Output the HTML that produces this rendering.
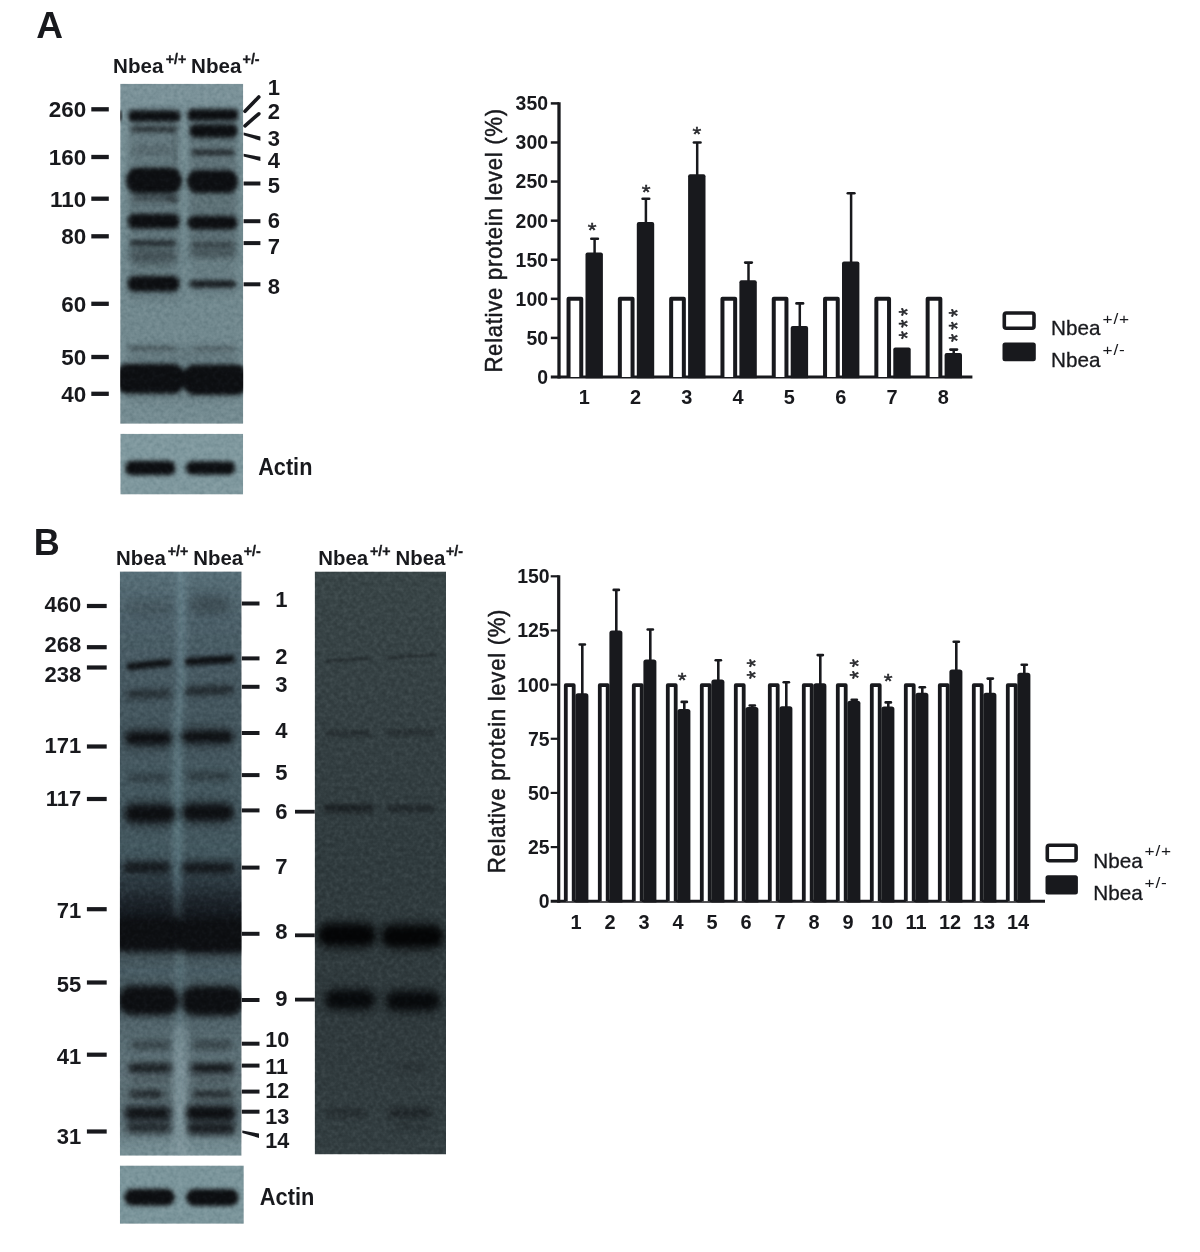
<!DOCTYPE html>
<html lang="en"><head><meta charset="utf-8"><title>Nbea figure</title>
<style>
html,body{margin:0;padding:0;background:#fff}
svg{display:block}
text{font-family:"Liberation Sans",Arial,Helvetica,sans-serif}
</style></head><body>
<svg width="1200" height="1252" viewBox="0 0 1200 1252">
<defs>
<filter id="b1" color-interpolation-filters="sRGB" x="-20%" y="-100%" width="140%" height="300%"><feGaussianBlur stdDeviation="1"/></filter>
<filter id="b2" color-interpolation-filters="sRGB" x="-20%" y="-100%" width="140%" height="300%"><feGaussianBlur stdDeviation="2"/></filter>
<filter id="b3" color-interpolation-filters="sRGB" x="-20%" y="-100%" width="140%" height="300%"><feGaussianBlur stdDeviation="3"/></filter>
<filter id="b5" color-interpolation-filters="sRGB" x="-30%" y="-100%" width="160%" height="300%"><feGaussianBlur stdDeviation="5"/></filter>
<filter id="b8" color-interpolation-filters="sRGB" x="-50%" y="-50%" width="200%" height="200%"><feGaussianBlur stdDeviation="8"/></filter>
<filter id="grain" x="0" y="0" width="100%" height="100%" color-interpolation-filters="sRGB"><feTurbulence type="fractalNoise" baseFrequency="0.23" numOctaves="2" seed="7"/><feColorMatrix type="matrix" values="1.6 0 0 0 -0.3  1.6 0 0 0 -0.3  1.6 0 0 0 -0.3  0 0 0 0 1"/></filter>

<linearGradient id="gA" x1="0" y1="0" x2="0" y2="1">
 <stop offset="0" stop-color="#7b9299"/><stop offset="0.2" stop-color="#778f95"/>
 <stop offset="0.45" stop-color="#728a90"/><stop offset="0.7" stop-color="#71888e"/>
 <stop offset="0.9" stop-color="#738a90"/><stop offset="1" stop-color="#758c92"/>
</linearGradient>
<linearGradient id="gB1" x1="0" y1="0" x2="0" y2="1">
 <stop offset="0.0" stop-color="#68838d"/>
 <stop offset="0.06" stop-color="#647e88"/>
 <stop offset="0.12" stop-color="#617a84"/>
 <stop offset="0.2201" stop-color="#5f7881"/>
 <stop offset="0.4683" stop-color="#5e7a82"/>
 <stop offset="0.5453" stop-color="#506771"/>
 <stop offset="0.5932" stop-color="#2c363c"/>
 <stop offset="0.6565" stop-color="#55696f"/>
 <stop offset="0.6822" stop-color="#5a727a"/>
 <stop offset="0.7079" stop-color="#566b72"/>
 <stop offset="0.7678" stop-color="#60767d"/>
 <stop offset="0.802" stop-color="#677e85"/>
 <stop offset="0.8448" stop-color="#748b92"/>
 <stop offset="1.0" stop-color="#778f95"/>
</linearGradient>
<linearGradient id="lnB1" gradientUnits="userSpaceOnUse" x1="0" y1="571.4" x2="0" y2="1155.7">
 <stop offset="0.0" stop-color="#10141a" stop-opacity="0.18"/>
 <stop offset="0.06" stop-color="#10141a" stop-opacity="0.25"/>
 <stop offset="0.12" stop-color="#10141a" stop-opacity="0.29"/>
 <stop offset="0.2201" stop-color="#10141a" stop-opacity="0.33"/>
 <stop offset="0.3912" stop-color="#10141a" stop-opacity="0.32"/>
 <stop offset="0.4854" stop-color="#10141a" stop-opacity="0.34"/>
 <stop offset="0.5179" stop-color="#10141a" stop-opacity="0.5"/>
 <stop offset="0.5453" stop-color="#10141a" stop-opacity="0.6"/>
 <stop offset="0.5881" stop-color="#10141a" stop-opacity="0.8"/>
 <stop offset="0.6565" stop-color="#10141a" stop-opacity="0.3"/>
 <stop offset="0.6822" stop-color="#10141a" stop-opacity="0.22"/>
 <stop offset="0.7678" stop-color="#10141a" stop-opacity="0.2"/>
 <stop offset="0.802" stop-color="#10141a" stop-opacity="0.18"/>
 <stop offset="0.8448" stop-color="#10141a" stop-opacity="0.22"/>
 <stop offset="0.9047" stop-color="#10141a" stop-opacity="0.26"/>
 <stop offset="0.956" stop-color="#10141a" stop-opacity="0.2"/>
 <stop offset="0.9817" stop-color="#10141a" stop-opacity="0.03"/>
 <stop offset="1.0" stop-color="#10141a" stop-opacity="0.0"/>
</linearGradient>
<linearGradient id="gB2" x1="0" y1="0" x2="0" y2="1">
 <stop offset="0" stop-color="#394547"/><stop offset="0.25" stop-color="#354043"/>
 <stop offset="0.5" stop-color="#303b3e"/><stop offset="0.8" stop-color="#303a3d"/><stop offset="1" stop-color="#333e41"/>
</linearGradient>

</defs>
<rect width="1200" height="1252" fill="#ffffff"/>
<g id="blotA">
<clipPath id="cA"><rect x="120.2" y="83.8" width="123.0" height="340.0"/></clipPath>
<g clip-path="url(#cA)">
<rect x="120.2" y="83.8" width="123.0" height="340.0" fill="url(#gA)"/>
<rect x="128" y="108" width="52" height="150" fill="#1c2227" opacity="0.2" filter="url(#b3)"/>
<rect x="189" y="108" width="48" height="150" fill="#1c2227" opacity="0.26" filter="url(#b3)"/>
<rect x="129" y="250" width="50" height="50" fill="#1c2227" opacity="0.16" filter="url(#b5)"/>
<rect x="190" y="250" width="46" height="45" fill="#1c2227" opacity="0.12" filter="url(#b5)"/>
<rect x="128" y="345" width="110" height="55" fill="#1c2227" opacity="0.15" filter="url(#b5)"/>
<rect x="172" y="132" width="5" height="34" fill="#1c2227" opacity="0.16" filter="url(#b2)"/>
<rect x="128.4" y="110.6" width="52.0" height="11.2" rx="4.0" ry="5.6" fill="#0d0f12" opacity="1.0" filter="url(#b2)"/>
<rect x="187.3" y="109.2" width="51.0" height="11.6" rx="4.0" ry="5.8" fill="#0d0f12" opacity="1.0" filter="url(#b2)"/>
<rect x="117.0" y="110.0" width="5.0" height="12.0" rx="2.5" ry="6.0" fill="#0e1013" opacity="0.85" filter="url(#b1)"/>
<rect x="131.0" y="125.9" width="46.0" height="6.5" rx="3.0" ry="3.2" fill="#0d0f12" opacity="0.62" filter="url(#b2)"/>
<rect x="189.5" y="124.2" width="48.0" height="13.5" rx="5.0" ry="6.8" fill="#0d0f12" opacity="1.0" filter="url(#b2)"/>
<rect x="191.5" y="149.8" width="43.0" height="5.5" rx="2.5" ry="2.8" fill="#0d0f12" opacity="0.72" filter="url(#b2)"/>
<rect x="132.0" y="145.5" width="40.0" height="9.0" rx="4.5" ry="4.5" fill="#0e1013" opacity="0.16" filter="url(#b3)"/>
<rect x="126.0" y="167.6" width="56.0" height="26.0" rx="11.0" ry="13.0" fill="#0d0f12" opacity="1.0" filter="url(#b2)"/>
<rect x="187.0" y="170.0" width="51.0" height="23.0" rx="10.0" ry="11.5" fill="#0d0f12" opacity="1.0" filter="url(#b2)"/>
<rect x="132.0" y="194.0" width="46.0" height="7.0" rx="3.5" ry="3.5" fill="#0e1013" opacity="0.5" filter="url(#b3)"/>
<rect x="167.0" y="197.0" width="10.0" height="5.0" rx="2.5" ry="2.5" fill="#0e1013" opacity="0.4" filter="url(#b2)"/>
<rect x="127.8" y="213.7" width="52.0" height="15.0" rx="6.0" ry="7.5" fill="#0d0f12" opacity="1.0" filter="url(#b2)"/>
<rect x="187.5" y="216.1" width="50.0" height="13.5" rx="6.0" ry="6.8" fill="#0d0f12" opacity="1.0" filter="url(#b2)"/>
<rect x="130.0" y="240.2" width="46.0" height="6.0" rx="3.0" ry="3.0" fill="#0d0f12" opacity="0.7" filter="url(#b2)"/>
<rect x="191.0" y="241.8" width="44.0" height="5.5" rx="3.0" ry="2.8" fill="#0d0f12" opacity="0.4" filter="url(#b2)"/>
<rect x="130.0" y="249.5" width="46.0" height="15.0" rx="7.5" ry="7.5" fill="#0e1013" opacity="0.28" filter="url(#b3)"/>
<rect x="191.0" y="248.5" width="44.0" height="8.0" rx="4.0" ry="4.0" fill="#0e1013" opacity="0.22" filter="url(#b3)"/>
<rect x="127.6" y="276.1" width="52.0" height="15.5" rx="6.0" ry="7.8" fill="#0d0f12" opacity="1.0" filter="url(#b2)"/>
<rect x="189.8" y="280.5" width="46.0" height="7.0" rx="3.0" ry="3.5" fill="#0d0f12" opacity="0.9" filter="url(#b2)"/>
<rect x="128.0" y="346.2" width="48.0" height="3.5" rx="1.8" ry="1.8" fill="#0e1013" opacity="0.42" filter="url(#b2)"/>
<rect x="193.0" y="346.4" width="42.0" height="3.5" rx="1.8" ry="1.8" fill="#0e1013" opacity="0.32" filter="url(#b2)"/>
<rect x="115.0" y="363.8" width="70.0" height="30.0" rx="12.0" ry="15.0" fill="#0d0f12" opacity="1.0" filter="url(#b2)"/>
<rect x="182.5" y="364.6" width="66.0" height="30.5" rx="12.0" ry="15.2" fill="#0d0f12" opacity="1.0" filter="url(#b2)"/>
<rect x="176.5" y="371.0" width="14.0" height="15.0" rx="2.0" ry="7.5" fill="#0d0f12" opacity="1.0" filter="url(#b2)"/>
<rect x="120.2" y="83.8" width="123.0" height="340.0" filter="url(#grain)" style="mix-blend-mode:soft-light" opacity="0.17"/>
</g>
</g>
<g id="actinA">
<clipPath id="cAA"><rect x="120.3" y="433.8" width="122.8" height="60.7"/></clipPath>
<g clip-path="url(#cAA)">
<rect x="120.3" y="433.8" width="122.8" height="60.7" fill="#7f989e"/>
<rect x="125.1" y="460.8" width="50.5" height="14.5" rx="6.0" ry="7.2" fill="#0d0f12" opacity="1.0" filter="url(#b2)"/>
<rect x="185.8" y="461.2" width="49.5" height="13.5" rx="6.0" ry="6.8" fill="#0d0f12" opacity="1.0" filter="url(#b2)"/>
<rect x="120.3" y="433.8" width="122.8" height="60.7" filter="url(#grain)" style="mix-blend-mode:soft-light" opacity="0.17"/>
</g>
</g>
<g id="blotB1">
<clipPath id="cB1"><rect x="119.9" y="571.4" width="121.7" height="584.3"/></clipPath>
<g clip-path="url(#cB1)">
<rect x="119.9" y="571.4" width="121.7" height="584.3" fill="url(#gB1)"/>
<path d="M108 558 H177.2 V690 L173.6 722 V925 L175.8 960 V1168 H108 Z" fill="url(#lnB1)" filter="url(#b3)"/>
<path d="M185.4 558 V690 L181.6 722 V925 L184.2 960 V1168 H254 V558 Z" fill="url(#lnB1)" filter="url(#b3)"/>
<rect x="174" y="740" width="8" height="180" fill="#10141a" opacity="0.0"/>
<rect x="122" y="885" width="118" height="40" fill="#0e1114" opacity="0.15" filter="url(#b8)"/>
<rect x="126.5" y="600.0" width="46.0" height="16.0" rx="8.0" ry="8.0" fill="#0e1013" opacity="0.15" filter="url(#b5)"/>
<rect x="189.5" y="594.5" width="40.0" height="20.0" rx="10.0" ry="10.0" fill="#0e1013" opacity="0.26" filter="url(#b5)"/>
<rect x="126.8" y="661.0" width="45.0" height="7.2" rx="3.0" ry="3.6" fill="#0d0f12" opacity="1.0" filter="url(#b2)" transform="rotate(-6.0 149.3 664.6)"/>
<rect x="184.8" y="656.6" width="50.0" height="7.8" rx="3.0" ry="3.9" fill="#0d0f12" opacity="1.0" filter="url(#b2)" transform="rotate(-3.2 209.8 660.5)"/>
<rect x="126.5" y="690.0" width="44.0" height="8.0" rx="4.0" ry="4.0" fill="#0e1013" opacity="0.6" filter="url(#b3)" transform="rotate(-2 148.5 694.0)"/>
<rect x="184.5" y="686.6" width="49.0" height="8.0" rx="4.0" ry="4.0" fill="#0e1013" opacity="0.72" filter="url(#b3)" transform="rotate(-2.5 209.0 690.6)"/>
<rect x="123.5" y="726.2" width="50.0" height="24.0" rx="12.0" ry="12.0" fill="#0e1013" opacity="0.28" filter="url(#b5)"/>
<rect x="180.5" y="725.3" width="54.0" height="23.0" rx="11.5" ry="11.5" fill="#0e1013" opacity="0.28" filter="url(#b5)"/>
<rect x="125.5" y="732.0" width="46.0" height="12.5" rx="6.0" ry="6.2" fill="#0d0f12" opacity="1.0" filter="url(#b3)"/>
<rect x="182.0" y="731.0" width="51.0" height="11.5" rx="6.0" ry="5.8" fill="#0d0f12" opacity="1.0" filter="url(#b3)"/>
<rect x="127.5" y="773.5" width="42.0" height="9.0" rx="4.5" ry="4.5" fill="#0e1013" opacity="0.34" filter="url(#b3)"/>
<rect x="186.5" y="771.5" width="44.0" height="9.0" rx="4.5" ry="4.5" fill="#0e1013" opacity="0.4" filter="url(#b3)"/>
<rect x="123.0" y="798.6" width="54.0" height="30.0" rx="15.0" ry="15.0" fill="#0e1013" opacity="0.3" filter="url(#b5)"/>
<rect x="180.3" y="798.6" width="55.0" height="28.0" rx="14.0" ry="14.0" fill="#0e1013" opacity="0.3" filter="url(#b5)"/>
<rect x="125.0" y="804.9" width="50.0" height="17.5" rx="8.0" ry="8.8" fill="#0d0f12" opacity="1.0" filter="url(#b3)"/>
<rect x="182.3" y="804.6" width="51.0" height="16.0" rx="8.0" ry="8.0" fill="#0d0f12" opacity="1.0" filter="url(#b3)"/>
<rect x="123.5" y="862.0" width="46.0" height="10.5" rx="4.0" ry="5.2" fill="#0d0f12" opacity="0.85" filter="url(#b3)"/>
<rect x="182.0" y="862.4" width="52.0" height="10.5" rx="4.0" ry="5.2" fill="#0d0f12" opacity="0.85" filter="url(#b3)"/>
<rect x="111.0" y="917.5" width="76.0" height="34.0" rx="14.0" ry="17.0" fill="#0d0f12" opacity="1.0" filter="url(#b3)"/>
<rect x="175.0" y="918.3" width="76.0" height="35.0" rx="14.0" ry="17.5" fill="#0d0f12" opacity="1.0" filter="url(#b3)"/>
<rect x="117.5" y="985.5" width="62.0" height="30.0" rx="14.0" ry="15.0" fill="#0d0f12" opacity="1.0" filter="url(#b3)"/>
<rect x="181.0" y="985.9" width="63.0" height="30.0" rx="14.0" ry="15.0" fill="#0d0f12" opacity="1.0" filter="url(#b3)"/>
<rect x="173" y="1026" width="15" height="136" fill="#8da1a8" opacity="0.4" filter="url(#b3)"/>
<rect x="126" y="1104" width="46" height="30" fill="#10141a" opacity="0.35" filter="url(#b3)"/>
<rect x="188" y="1104" width="47" height="31" fill="#10141a" opacity="0.45" filter="url(#b3)"/>
<rect x="130.5" y="1040.0" width="40.0" height="10.0" rx="5.0" ry="5.0" fill="#0e1013" opacity="0.4" filter="url(#b3)"/>
<rect x="192.5" y="1040.0" width="40.0" height="10.0" rx="5.0" ry="5.0" fill="#0e1013" opacity="0.4" filter="url(#b3)"/>
<rect x="128.0" y="1063.2" width="44.0" height="9.5" rx="4.0" ry="4.8" fill="#0d0f12" opacity="0.88" filter="url(#b3)"/>
<rect x="190.5" y="1063.5" width="44.0" height="9.5" rx="4.0" ry="4.8" fill="#0d0f12" opacity="0.95" filter="url(#b3)"/>
<rect x="130.5" y="1077.0" width="40.0" height="7.0" rx="3.5" ry="3.5" fill="#0e1013" opacity="0.22" filter="url(#b3)"/>
<rect x="192.5" y="1077.0" width="40.0" height="7.0" rx="3.5" ry="3.5" fill="#0e1013" opacity="0.22" filter="url(#b3)"/>
<rect x="129.0" y="1090.2" width="32.0" height="7.5" rx="3.0" ry="3.8" fill="#0d0f12" opacity="0.8" filter="url(#b3)"/>
<rect x="151.0" y="1092.0" width="18.0" height="5.0" rx="3.0" ry="2.5" fill="#0d0f12" opacity="0.4" filter="url(#b3)"/>
<rect x="192.5" y="1090.7" width="40.0" height="7.0" rx="3.0" ry="3.5" fill="#0d0f12" opacity="0.8" filter="url(#b3)"/>
<rect x="125.0" y="1107.8" width="45.0" height="11.5" rx="5.0" ry="5.8" fill="#0d0f12" opacity="0.95" filter="url(#b3)"/>
<rect x="186.5" y="1106.7" width="48.0" height="13.0" rx="5.0" ry="6.5" fill="#0d0f12" opacity="1.0" filter="url(#b3)"/>
<rect x="127.5" y="1123.2" width="42.0" height="8.5" rx="4.0" ry="4.2" fill="#0d0f12" opacity="0.62" filter="url(#b3)"/>
<rect x="188.0" y="1123.9" width="46.0" height="9.0" rx="4.0" ry="4.5" fill="#0d0f12" opacity="0.8" filter="url(#b3)"/>
<rect x="119.9" y="571.4" width="121.7" height="584.3" filter="url(#grain)" style="mix-blend-mode:soft-light" opacity="0.17"/>
</g>
</g>
<g id="blotB2">
<clipPath id="cB2"><rect x="314.7" y="571.5" width="131.3" height="582.9"/></clipPath>
<g clip-path="url(#cB2)">
<rect x="314.7" y="571.5" width="131.3" height="582.9" fill="url(#gB2)"/>
<rect x="326.0" y="658.3" width="45.0" height="3.0" rx="1.5" ry="1.5" fill="#0e1013" opacity="0.4" filter="url(#b1)" transform="rotate(-4 348.5 659.8)"/>
<rect x="386.0" y="654.7" width="50.0" height="3.0" rx="1.5" ry="1.5" fill="#0e1013" opacity="0.4" filter="url(#b1)" transform="rotate(-4 411.0 656.2)"/>
<rect x="325.5" y="730.5" width="46.0" height="6.0" rx="3.0" ry="3.0" fill="#0e1013" opacity="0.35" filter="url(#b2)"/>
<rect x="386.0" y="729.5" width="50.0" height="6.0" rx="3.0" ry="3.0" fill="#0e1013" opacity="0.35" filter="url(#b2)"/>
<rect x="323.5" y="804.5" width="50.0" height="8.0" rx="4.0" ry="4.0" fill="#0e1013" opacity="0.6" filter="url(#b2)"/>
<rect x="387.0" y="805.0" width="48.0" height="7.0" rx="3.5" ry="3.5" fill="#0e1013" opacity="0.45" filter="url(#b2)"/>
<rect x="319.3" y="925.5" width="55.0" height="19.0" rx="9.0" ry="9.5" fill="#040506" opacity="1.0" filter="url(#b3)"/>
<rect x="382.9" y="926.8" width="59.0" height="19.0" rx="9.0" ry="9.5" fill="#040506" opacity="1.0" filter="url(#b3)"/>
<rect x="315.8" y="920.0" width="62.0" height="30.0" rx="15.0" ry="15.0" fill="#040506" opacity="0.5" filter="url(#b5)"/>
<rect x="379.4" y="921.3" width="66.0" height="30.0" rx="15.0" ry="15.0" fill="#040506" opacity="0.5" filter="url(#b5)"/>
<rect x="326.5" y="991.6" width="47.0" height="16.0" rx="8.0" ry="8.0" fill="#06080a" opacity="0.92" filter="url(#b3)"/>
<rect x="387.5" y="993.0" width="51.0" height="16.0" rx="8.0" ry="8.0" fill="#06080a" opacity="0.92" filter="url(#b3)"/>
<rect x="322.5" y="986.6" width="55.0" height="26.0" rx="13.0" ry="13.0" fill="#06080a" opacity="0.45" filter="url(#b5)"/>
<rect x="383.5" y="988.0" width="59.0" height="26.0" rx="13.0" ry="13.0" fill="#06080a" opacity="0.45" filter="url(#b5)"/>
<rect x="326.5" y="1109.0" width="40.0" height="8.0" rx="4.0" ry="4.0" fill="#0e1013" opacity="0.35" filter="url(#b3)"/>
<rect x="388.0" y="1108.3" width="44.0" height="9.0" rx="4.5" ry="4.5" fill="#0e1013" opacity="0.55" filter="url(#b3)"/>
<rect x="394.0" y="1123.0" width="36.0" height="8.0" rx="4.0" ry="4.0" fill="#0e1013" opacity="0.2" filter="url(#b3)"/>
<rect x="396.0" y="1064.0" width="30.0" height="6.0" rx="3.0" ry="3.0" fill="#0e1013" opacity="0.25" filter="url(#b3)"/>
<rect x="314.7" y="571.5" width="131.3" height="582.9" filter="url(#grain)" style="mix-blend-mode:soft-light" opacity="0.17"/>
</g>
</g>
<g id="actinB">
<clipPath id="cAB"><rect x="119.9" y="1165.5" width="123.9" height="58.3"/></clipPath>
<g clip-path="url(#cAB)">
<rect x="119.9" y="1165.5" width="123.9" height="58.3" fill="#7b959b"/>
<rect x="124.3" y="1188.7" width="50.5" height="17.0" rx="8.0" ry="8.5" fill="#0d0f12" opacity="1.0" filter="url(#b2)"/>
<rect x="186.1" y="1188.9" width="52.5" height="17.0" rx="8.0" ry="8.5" fill="#0d0f12" opacity="1.0" filter="url(#b2)"/>
<rect x="119.9" y="1165.5" width="123.9" height="58.3" filter="url(#grain)" style="mix-blend-mode:soft-light" opacity="0.17"/>
</g>
</g>
<g id="chartA">
<line x1="559.00" y1="102.15" x2="559.00" y2="378.50" stroke="#18191d" stroke-width="3.3" stroke-linecap="butt"/>
<line x1="550.80" y1="377.00" x2="972.40" y2="377.00" stroke="#18191d" stroke-width="3" stroke-linecap="butt"/>
<line x1="550.80" y1="337.91" x2="559.00" y2="337.91" stroke="#18191d" stroke-width="2.5" stroke-linecap="butt"/>
<line x1="550.80" y1="298.83" x2="559.00" y2="298.83" stroke="#18191d" stroke-width="2.5" stroke-linecap="butt"/>
<line x1="550.80" y1="259.74" x2="559.00" y2="259.74" stroke="#18191d" stroke-width="2.5" stroke-linecap="butt"/>
<line x1="550.80" y1="220.66" x2="559.00" y2="220.66" stroke="#18191d" stroke-width="2.5" stroke-linecap="butt"/>
<line x1="550.80" y1="181.57" x2="559.00" y2="181.57" stroke="#18191d" stroke-width="2.5" stroke-linecap="butt"/>
<line x1="550.80" y1="142.49" x2="559.00" y2="142.49" stroke="#18191d" stroke-width="2.5" stroke-linecap="butt"/>
<line x1="550.80" y1="103.40" x2="559.00" y2="103.40" stroke="#18191d" stroke-width="2.5" stroke-linecap="butt"/>
<text transform="translate(548.00,383.90) scale(0.925,1.000)" font-size="21" font-weight="bold" text-anchor="end" fill="#18191d">0</text>
<text transform="translate(548.00,344.81) scale(0.925,1.000)" font-size="21" font-weight="bold" text-anchor="end" fill="#18191d">50</text>
<text transform="translate(548.00,305.73) scale(0.925,1.000)" font-size="21" font-weight="bold" text-anchor="end" fill="#18191d">100</text>
<text transform="translate(548.00,266.64) scale(0.925,1.000)" font-size="21" font-weight="bold" text-anchor="end" fill="#18191d">150</text>
<text transform="translate(548.00,227.56) scale(0.925,1.000)" font-size="21" font-weight="bold" text-anchor="end" fill="#18191d">200</text>
<text transform="translate(548.00,188.47) scale(0.925,1.000)" font-size="21" font-weight="bold" text-anchor="end" fill="#18191d">250</text>
<text transform="translate(548.00,149.39) scale(0.925,1.000)" font-size="21" font-weight="bold" text-anchor="end" fill="#18191d">300</text>
<text transform="translate(548.00,110.30) scale(0.925,1.000)" font-size="21" font-weight="bold" text-anchor="end" fill="#18191d">350</text>
<path d="M568.55 377.0 V298.80 H581.25 V377.0" fill="#fff" stroke="#18191d" stroke-width="4.0" stroke-linejoin="round"/>
<line x1="594.60" y1="238.50" x2="594.60" y2="254.50" stroke="#18191d" stroke-width="2.5" stroke-linecap="butt"/>
<line x1="591.30" y1="238.70" x2="597.90" y2="238.70" stroke="#18191d" stroke-width="2.6" stroke-linecap="round"/>
<path d="M585.50 378.20 V254.50 Q585.50 252.50 587.50 252.50 H600.90 Q602.90 252.50 602.90 254.50 V378.20 Z" fill="#18191d"/>
<text transform="translate(584.20,404.00) scale(0.950,1.000)" font-size="21" font-weight="bold" text-anchor="middle" fill="#18191d">1</text>
<path d="M619.85 377.0 V298.80 H632.55 V377.0" fill="#fff" stroke="#18191d" stroke-width="4.0" stroke-linejoin="round"/>
<line x1="645.90" y1="198.60" x2="645.90" y2="224.00" stroke="#18191d" stroke-width="2.5" stroke-linecap="butt"/>
<line x1="642.60" y1="198.80" x2="649.20" y2="198.80" stroke="#18191d" stroke-width="2.6" stroke-linecap="round"/>
<path d="M636.80 378.20 V224.00 Q636.80 222.00 638.80 222.00 H652.20 Q654.20 222.00 654.20 224.00 V378.20 Z" fill="#18191d"/>
<text transform="translate(635.50,404.00) scale(0.950,1.000)" font-size="21" font-weight="bold" text-anchor="middle" fill="#18191d">2</text>
<path d="M671.15 377.0 V298.80 H683.85 V377.0" fill="#fff" stroke="#18191d" stroke-width="4.0" stroke-linejoin="round"/>
<line x1="697.20" y1="142.30" x2="697.20" y2="176.20" stroke="#18191d" stroke-width="2.5" stroke-linecap="butt"/>
<line x1="693.90" y1="142.50" x2="700.50" y2="142.50" stroke="#18191d" stroke-width="2.6" stroke-linecap="round"/>
<path d="M688.10 378.20 V176.20 Q688.10 174.20 690.10 174.20 H703.50 Q705.50 174.20 705.50 176.20 V378.20 Z" fill="#18191d"/>
<text transform="translate(686.80,404.00) scale(0.950,1.000)" font-size="21" font-weight="bold" text-anchor="middle" fill="#18191d">3</text>
<path d="M722.45 377.0 V298.80 H735.15 V377.0" fill="#fff" stroke="#18191d" stroke-width="4.0" stroke-linejoin="round"/>
<line x1="748.50" y1="262.40" x2="748.50" y2="282.30" stroke="#18191d" stroke-width="2.5" stroke-linecap="butt"/>
<line x1="745.20" y1="262.60" x2="751.80" y2="262.60" stroke="#18191d" stroke-width="2.6" stroke-linecap="round"/>
<path d="M739.40 378.20 V282.30 Q739.40 280.30 741.40 280.30 H754.80 Q756.80 280.30 756.80 282.30 V378.20 Z" fill="#18191d"/>
<text transform="translate(738.10,404.00) scale(0.950,1.000)" font-size="21" font-weight="bold" text-anchor="middle" fill="#18191d">4</text>
<path d="M773.75 377.0 V298.80 H786.45 V377.0" fill="#fff" stroke="#18191d" stroke-width="4.0" stroke-linejoin="round"/>
<line x1="799.80" y1="303.20" x2="799.80" y2="328.00" stroke="#18191d" stroke-width="2.5" stroke-linecap="butt"/>
<line x1="796.50" y1="303.40" x2="803.10" y2="303.40" stroke="#18191d" stroke-width="2.6" stroke-linecap="round"/>
<path d="M790.70 378.20 V328.00 Q790.70 326.00 792.70 326.00 H806.10 Q808.10 326.00 808.10 328.00 V378.20 Z" fill="#18191d"/>
<text transform="translate(789.40,404.00) scale(0.950,1.000)" font-size="21" font-weight="bold" text-anchor="middle" fill="#18191d">5</text>
<path d="M825.05 377.0 V298.80 H837.75 V377.0" fill="#fff" stroke="#18191d" stroke-width="4.0" stroke-linejoin="round"/>
<line x1="851.10" y1="193.00" x2="851.10" y2="263.40" stroke="#18191d" stroke-width="2.5" stroke-linecap="butt"/>
<line x1="847.80" y1="193.20" x2="854.40" y2="193.20" stroke="#18191d" stroke-width="2.6" stroke-linecap="round"/>
<path d="M842.00 378.20 V263.40 Q842.00 261.40 844.00 261.40 H857.40 Q859.40 261.40 859.40 263.40 V378.20 Z" fill="#18191d"/>
<text transform="translate(840.70,404.00) scale(0.950,1.000)" font-size="21" font-weight="bold" text-anchor="middle" fill="#18191d">6</text>
<path d="M876.35 377.0 V298.80 H889.05 V377.0" fill="#fff" stroke="#18191d" stroke-width="4.0" stroke-linejoin="round"/>
<path d="M893.30 378.20 V349.60 Q893.30 347.60 895.30 347.60 H908.70 Q910.70 347.60 910.70 349.60 V378.20 Z" fill="#18191d"/>
<text transform="translate(892.00,404.00) scale(0.950,1.000)" font-size="21" font-weight="bold" text-anchor="middle" fill="#18191d">7</text>
<path d="M927.65 377.0 V298.80 H940.35 V377.0" fill="#fff" stroke="#18191d" stroke-width="4.0" stroke-linejoin="round"/>
<line x1="953.70" y1="349.40" x2="953.70" y2="355.00" stroke="#18191d" stroke-width="2.5" stroke-linecap="butt"/>
<line x1="950.40" y1="349.60" x2="957.00" y2="349.60" stroke="#18191d" stroke-width="2.6" stroke-linecap="round"/>
<path d="M944.60 378.20 V355.00 Q944.60 353.00 946.60 353.00 H960.00 Q962.00 353.00 962.00 355.00 V378.20 Z" fill="#18191d"/>
<text transform="translate(943.30,404.00) scale(0.950,1.000)" font-size="21" font-weight="bold" text-anchor="middle" fill="#18191d">8</text>
<text transform="translate(592.20,236.74) scale(1.100,1.000)" font-size="20.5" font-weight="normal" text-anchor="middle" fill="#26272b" stroke="#26272b" stroke-width="0.45">*</text>
<text transform="translate(646.20,198.74) scale(1.100,1.000)" font-size="20.5" font-weight="normal" text-anchor="middle" fill="#26272b" stroke="#26272b" stroke-width="0.45">*</text>
<text transform="translate(697.00,141.24) scale(1.100,1.000)" font-size="20.5" font-weight="normal" text-anchor="middle" fill="#26272b" stroke="#26272b" stroke-width="0.45">*</text>
<text transform="translate(915.84,312.00) rotate(-90) scale(1.000,1.100)" font-size="21" font-weight="normal" text-anchor="middle" fill="#26272b" stroke="#26272b" stroke-width="0.45">*</text>
<text transform="translate(915.84,323.60) rotate(-90) scale(1.000,1.100)" font-size="21" font-weight="normal" text-anchor="middle" fill="#26272b" stroke="#26272b" stroke-width="0.45">*</text>
<text transform="translate(915.84,335.20) rotate(-90) scale(1.000,1.100)" font-size="21" font-weight="normal" text-anchor="middle" fill="#26272b" stroke="#26272b" stroke-width="0.45">*</text>
<text transform="translate(965.84,313.00) rotate(-90) scale(1.000,1.100)" font-size="21" font-weight="normal" text-anchor="middle" fill="#26272b" stroke="#26272b" stroke-width="0.45">*</text>
<text transform="translate(965.84,325.60) rotate(-90) scale(1.000,1.100)" font-size="21" font-weight="normal" text-anchor="middle" fill="#26272b" stroke="#26272b" stroke-width="0.45">*</text>
<text transform="translate(965.84,338.00) rotate(-90) scale(1.000,1.100)" font-size="21" font-weight="normal" text-anchor="middle" fill="#26272b" stroke="#26272b" stroke-width="0.45">*</text>
<text transform="translate(502.00,372.60) rotate(-90) scale(1.000,1.070)" font-size="22.2" font-weight="normal" text-anchor="start" fill="#18191d" letter-spacing="0.68" stroke="#18191d" stroke-width="0.45">Relative protein level (%)</text>
<rect x="1004.30" y="313.00" width="29.70" height="15.20" fill="#ffffff" stroke="#18191d" stroke-width="3.6" rx="2"/>
<rect x="1002.50" y="342.50" width="33.30" height="18.80" fill="#18191d" rx="2.5"/>
<text transform="translate(1051.00,335.30)" font-size="20.7" font-weight="normal" text-anchor="start" fill="#18191d" stroke="#18191d" stroke-width="0.3">Nbea</text>
<text transform="translate(1102.60,323.70) scale(1.150,1.000)" font-size="15" font-weight="normal" text-anchor="start" fill="#18191d" letter-spacing="0.7">+/+</text>
<text transform="translate(1051.00,367.00)" font-size="20.7" font-weight="normal" text-anchor="start" fill="#18191d" stroke="#18191d" stroke-width="0.3">Nbea</text>
<text transform="translate(1102.60,355.20) scale(1.150,1.000)" font-size="15" font-weight="normal" text-anchor="start" fill="#18191d" letter-spacing="0.7">+/-</text>
</g>
<g id="chartB">
<line x1="558.70" y1="575.20" x2="558.70" y2="902.65" stroke="#18191d" stroke-width="3.2" stroke-linecap="butt"/>
<line x1="550.70" y1="901.25" x2="1045.00" y2="901.25" stroke="#18191d" stroke-width="2.8" stroke-linecap="butt"/>
<line x1="550.70" y1="847.09" x2="558.70" y2="847.09" stroke="#18191d" stroke-width="2.2" stroke-linecap="butt"/>
<line x1="550.70" y1="792.93" x2="558.70" y2="792.93" stroke="#18191d" stroke-width="2.2" stroke-linecap="butt"/>
<line x1="550.70" y1="738.77" x2="558.70" y2="738.77" stroke="#18191d" stroke-width="2.2" stroke-linecap="butt"/>
<line x1="550.70" y1="684.62" x2="558.70" y2="684.62" stroke="#18191d" stroke-width="2.2" stroke-linecap="butt"/>
<line x1="550.70" y1="630.46" x2="558.70" y2="630.46" stroke="#18191d" stroke-width="2.2" stroke-linecap="butt"/>
<line x1="550.70" y1="576.30" x2="558.70" y2="576.30" stroke="#18191d" stroke-width="2.2" stroke-linecap="butt"/>
<text transform="translate(549.60,908.25) scale(0.925,1.000)" font-size="21" font-weight="bold" text-anchor="end" fill="#18191d">0</text>
<text transform="translate(549.60,854.09) scale(0.925,1.000)" font-size="21" font-weight="bold" text-anchor="end" fill="#18191d">25</text>
<text transform="translate(549.60,799.93) scale(0.925,1.000)" font-size="21" font-weight="bold" text-anchor="end" fill="#18191d">50</text>
<text transform="translate(549.60,745.77) scale(0.925,1.000)" font-size="21" font-weight="bold" text-anchor="end" fill="#18191d">75</text>
<text transform="translate(549.60,691.62) scale(0.925,1.000)" font-size="21" font-weight="bold" text-anchor="end" fill="#18191d">100</text>
<text transform="translate(549.60,637.46) scale(0.925,1.000)" font-size="21" font-weight="bold" text-anchor="end" fill="#18191d">125</text>
<text transform="translate(549.60,583.30) scale(0.925,1.000)" font-size="21" font-weight="bold" text-anchor="end" fill="#18191d">150</text>
<path d="M565.80 901.25 V685.20 H573.70 V901.25" fill="#fff" stroke="#18191d" stroke-width="3.8" stroke-linejoin="round"/>
<line x1="582.30" y1="644.30" x2="582.30" y2="695.30" stroke="#18191d" stroke-width="2.6" stroke-linecap="butt"/>
<line x1="579.70" y1="644.50" x2="584.90" y2="644.50" stroke="#18191d" stroke-width="2.6" stroke-linecap="round"/>
<path d="M575.40 902.45 V695.90 Q575.40 693.30 578.00 693.30 H585.80 Q588.40 693.30 588.40 695.90 V902.45 Z" fill="#18191d"/>
<text transform="translate(576.10,928.70) scale(0.950,1.000)" font-size="21" font-weight="bold" text-anchor="middle" fill="#18191d">1</text>
<path d="M599.80 901.25 V685.20 H607.70 V901.25" fill="#fff" stroke="#18191d" stroke-width="3.8" stroke-linejoin="round"/>
<line x1="616.30" y1="589.70" x2="616.30" y2="632.40" stroke="#18191d" stroke-width="2.6" stroke-linecap="butt"/>
<line x1="613.70" y1="589.90" x2="618.90" y2="589.90" stroke="#18191d" stroke-width="2.6" stroke-linecap="round"/>
<path d="M609.40 902.45 V633.00 Q609.40 630.40 612.00 630.40 H619.80 Q622.40 630.40 622.40 633.00 V902.45 Z" fill="#18191d"/>
<text transform="translate(610.10,928.70) scale(0.950,1.000)" font-size="21" font-weight="bold" text-anchor="middle" fill="#18191d">2</text>
<path d="M633.80 901.25 V685.20 H641.70 V901.25" fill="#fff" stroke="#18191d" stroke-width="3.8" stroke-linejoin="round"/>
<line x1="650.30" y1="629.30" x2="650.30" y2="661.40" stroke="#18191d" stroke-width="2.6" stroke-linecap="butt"/>
<line x1="647.70" y1="629.50" x2="652.90" y2="629.50" stroke="#18191d" stroke-width="2.6" stroke-linecap="round"/>
<path d="M643.40 902.45 V662.00 Q643.40 659.40 646.00 659.40 H653.80 Q656.40 659.40 656.40 662.00 V902.45 Z" fill="#18191d"/>
<text transform="translate(644.10,928.70) scale(0.950,1.000)" font-size="21" font-weight="bold" text-anchor="middle" fill="#18191d">3</text>
<path d="M667.80 901.25 V685.20 H675.70 V901.25" fill="#fff" stroke="#18191d" stroke-width="3.8" stroke-linejoin="round"/>
<line x1="684.30" y1="701.70" x2="684.30" y2="710.90" stroke="#18191d" stroke-width="2.6" stroke-linecap="butt"/>
<line x1="681.70" y1="701.90" x2="686.90" y2="701.90" stroke="#18191d" stroke-width="2.6" stroke-linecap="round"/>
<path d="M677.40 902.45 V711.50 Q677.40 708.90 680.00 708.90 H687.80 Q690.40 708.90 690.40 711.50 V902.45 Z" fill="#18191d"/>
<text transform="translate(678.10,928.70) scale(0.950,1.000)" font-size="21" font-weight="bold" text-anchor="middle" fill="#18191d">4</text>
<path d="M701.80 901.25 V685.20 H709.70 V901.25" fill="#fff" stroke="#18191d" stroke-width="3.8" stroke-linejoin="round"/>
<line x1="718.30" y1="660.00" x2="718.30" y2="681.60" stroke="#18191d" stroke-width="2.6" stroke-linecap="butt"/>
<line x1="715.70" y1="660.20" x2="720.90" y2="660.20" stroke="#18191d" stroke-width="2.6" stroke-linecap="round"/>
<path d="M711.40 902.45 V682.20 Q711.40 679.60 714.00 679.60 H721.80 Q724.40 679.60 724.40 682.20 V902.45 Z" fill="#18191d"/>
<text transform="translate(712.10,928.70) scale(0.950,1.000)" font-size="21" font-weight="bold" text-anchor="middle" fill="#18191d">5</text>
<path d="M735.80 901.25 V685.20 H743.70 V901.25" fill="#fff" stroke="#18191d" stroke-width="3.8" stroke-linejoin="round"/>
<line x1="752.30" y1="705.30" x2="752.30" y2="709.10" stroke="#18191d" stroke-width="2.6" stroke-linecap="butt"/>
<line x1="749.70" y1="705.50" x2="754.90" y2="705.50" stroke="#18191d" stroke-width="2.6" stroke-linecap="round"/>
<path d="M745.40 902.45 V709.70 Q745.40 707.10 748.00 707.10 H755.80 Q758.40 707.10 758.40 709.70 V902.45 Z" fill="#18191d"/>
<text transform="translate(746.10,928.70) scale(0.950,1.000)" font-size="21" font-weight="bold" text-anchor="middle" fill="#18191d">6</text>
<path d="M769.80 901.25 V685.20 H777.70 V901.25" fill="#fff" stroke="#18191d" stroke-width="3.8" stroke-linejoin="round"/>
<line x1="786.30" y1="682.00" x2="786.30" y2="708.20" stroke="#18191d" stroke-width="2.6" stroke-linecap="butt"/>
<line x1="783.70" y1="682.20" x2="788.90" y2="682.20" stroke="#18191d" stroke-width="2.6" stroke-linecap="round"/>
<path d="M779.40 902.45 V708.80 Q779.40 706.20 782.00 706.20 H789.80 Q792.40 706.20 792.40 708.80 V902.45 Z" fill="#18191d"/>
<text transform="translate(780.10,928.70) scale(0.950,1.000)" font-size="21" font-weight="bold" text-anchor="middle" fill="#18191d">7</text>
<path d="M803.80 901.25 V685.20 H811.70 V901.25" fill="#fff" stroke="#18191d" stroke-width="3.8" stroke-linejoin="round"/>
<line x1="820.30" y1="654.90" x2="820.30" y2="685.30" stroke="#18191d" stroke-width="2.6" stroke-linecap="butt"/>
<line x1="817.70" y1="655.10" x2="822.90" y2="655.10" stroke="#18191d" stroke-width="2.6" stroke-linecap="round"/>
<path d="M813.40 902.45 V685.90 Q813.40 683.30 816.00 683.30 H823.80 Q826.40 683.30 826.40 685.90 V902.45 Z" fill="#18191d"/>
<text transform="translate(814.10,928.70) scale(0.950,1.000)" font-size="21" font-weight="bold" text-anchor="middle" fill="#18191d">8</text>
<path d="M837.80 901.25 V685.20 H845.70 V901.25" fill="#fff" stroke="#18191d" stroke-width="3.8" stroke-linejoin="round"/>
<line x1="854.30" y1="699.50" x2="854.30" y2="702.70" stroke="#18191d" stroke-width="2.6" stroke-linecap="butt"/>
<line x1="851.70" y1="699.70" x2="856.90" y2="699.70" stroke="#18191d" stroke-width="2.6" stroke-linecap="round"/>
<path d="M847.40 902.45 V703.30 Q847.40 700.70 850.00 700.70 H857.80 Q860.40 700.70 860.40 703.30 V902.45 Z" fill="#18191d"/>
<text transform="translate(848.10,928.70) scale(0.950,1.000)" font-size="21" font-weight="bold" text-anchor="middle" fill="#18191d">9</text>
<path d="M871.80 901.25 V685.20 H879.70 V901.25" fill="#fff" stroke="#18191d" stroke-width="3.8" stroke-linejoin="round"/>
<line x1="888.30" y1="702.20" x2="888.30" y2="708.50" stroke="#18191d" stroke-width="2.6" stroke-linecap="butt"/>
<line x1="885.70" y1="702.40" x2="890.90" y2="702.40" stroke="#18191d" stroke-width="2.6" stroke-linecap="round"/>
<path d="M881.40 902.45 V709.10 Q881.40 706.50 884.00 706.50 H891.80 Q894.40 706.50 894.40 709.10 V902.45 Z" fill="#18191d"/>
<text transform="translate(882.10,928.70) scale(0.950,1.000)" font-size="21" font-weight="bold" text-anchor="middle" fill="#18191d">10</text>
<path d="M905.80 901.25 V685.20 H913.70 V901.25" fill="#fff" stroke="#18191d" stroke-width="3.8" stroke-linejoin="round"/>
<line x1="922.30" y1="687.00" x2="922.30" y2="694.80" stroke="#18191d" stroke-width="2.6" stroke-linecap="butt"/>
<line x1="919.70" y1="687.20" x2="924.90" y2="687.20" stroke="#18191d" stroke-width="2.6" stroke-linecap="round"/>
<path d="M915.40 902.45 V695.40 Q915.40 692.80 918.00 692.80 H925.80 Q928.40 692.80 928.40 695.40 V902.45 Z" fill="#18191d"/>
<text transform="translate(916.10,928.70) scale(0.950,1.000)" font-size="21" font-weight="bold" text-anchor="middle" fill="#18191d">11</text>
<path d="M939.80 901.25 V685.20 H947.70 V901.25" fill="#fff" stroke="#18191d" stroke-width="3.8" stroke-linejoin="round"/>
<line x1="956.30" y1="641.50" x2="956.30" y2="671.50" stroke="#18191d" stroke-width="2.6" stroke-linecap="butt"/>
<line x1="953.70" y1="641.70" x2="958.90" y2="641.70" stroke="#18191d" stroke-width="2.6" stroke-linecap="round"/>
<path d="M949.40 902.45 V672.10 Q949.40 669.50 952.00 669.50 H959.80 Q962.40 669.50 962.40 672.10 V902.45 Z" fill="#18191d"/>
<text transform="translate(950.10,928.70) scale(0.950,1.000)" font-size="21" font-weight="bold" text-anchor="middle" fill="#18191d">12</text>
<path d="M973.80 901.25 V685.20 H981.70 V901.25" fill="#fff" stroke="#18191d" stroke-width="3.8" stroke-linejoin="round"/>
<line x1="990.30" y1="678.40" x2="990.30" y2="694.80" stroke="#18191d" stroke-width="2.6" stroke-linecap="butt"/>
<line x1="987.70" y1="678.60" x2="992.90" y2="678.60" stroke="#18191d" stroke-width="2.6" stroke-linecap="round"/>
<path d="M983.40 902.45 V695.40 Q983.40 692.80 986.00 692.80 H993.80 Q996.40 692.80 996.40 695.40 V902.45 Z" fill="#18191d"/>
<text transform="translate(984.10,928.70) scale(0.950,1.000)" font-size="21" font-weight="bold" text-anchor="middle" fill="#18191d">13</text>
<path d="M1007.80 901.25 V685.20 H1015.70 V901.25" fill="#fff" stroke="#18191d" stroke-width="3.8" stroke-linejoin="round"/>
<line x1="1024.30" y1="664.50" x2="1024.30" y2="674.80" stroke="#18191d" stroke-width="2.6" stroke-linecap="butt"/>
<line x1="1021.70" y1="664.70" x2="1026.90" y2="664.70" stroke="#18191d" stroke-width="2.6" stroke-linecap="round"/>
<path d="M1017.40 902.45 V675.40 Q1017.40 672.80 1020.00 672.80 H1027.80 Q1030.40 672.80 1030.40 675.40 V902.45 Z" fill="#18191d"/>
<text transform="translate(1018.10,928.70) scale(0.950,1.000)" font-size="21" font-weight="bold" text-anchor="middle" fill="#18191d">14</text>
<text transform="translate(682.20,687.25) scale(1.100,1.000)" font-size="20.5" font-weight="normal" text-anchor="middle" fill="#26272b" stroke="#26272b" stroke-width="0.45">*</text>
<text transform="translate(888.20,687.84) scale(1.100,1.000)" font-size="20.5" font-weight="normal" text-anchor="middle" fill="#26272b" stroke="#26272b" stroke-width="0.45">*</text>
<text transform="translate(764.04,663.10) rotate(-90) scale(1.000,1.100)" font-size="21" font-weight="normal" text-anchor="middle" fill="#26272b" stroke="#26272b" stroke-width="0.45">*</text>
<text transform="translate(764.04,675.00) rotate(-90) scale(1.000,1.100)" font-size="21" font-weight="normal" text-anchor="middle" fill="#26272b" stroke="#26272b" stroke-width="0.45">*</text>
<text transform="translate(866.64,663.10) rotate(-90) scale(1.000,1.100)" font-size="21" font-weight="normal" text-anchor="middle" fill="#26272b" stroke="#26272b" stroke-width="0.45">*</text>
<text transform="translate(866.64,675.00) rotate(-90) scale(1.000,1.100)" font-size="21" font-weight="normal" text-anchor="middle" fill="#26272b" stroke="#26272b" stroke-width="0.45">*</text>
<text transform="translate(504.50,873.20) rotate(-90) scale(1.000,1.070)" font-size="22.2" font-weight="normal" text-anchor="start" fill="#18191d" letter-spacing="0.68" stroke="#18191d" stroke-width="0.45">Relative protein level (%)</text>
<rect x="1047.30" y="845.30" width="28.80" height="15.40" fill="#ffffff" stroke="#18191d" stroke-width="3.6" rx="2"/>
<rect x="1045.50" y="875.20" width="32.40" height="19.40" fill="#18191d" rx="2.5"/>
<text transform="translate(1093.30,868.00)" font-size="20.7" font-weight="normal" text-anchor="start" fill="#18191d" stroke="#18191d" stroke-width="0.3">Nbea</text>
<text transform="translate(1144.60,856.40) scale(1.150,1.000)" font-size="15" font-weight="normal" text-anchor="start" fill="#18191d" letter-spacing="0.7">+/+</text>
<text transform="translate(1093.30,899.80)" font-size="20.7" font-weight="normal" text-anchor="start" fill="#18191d" stroke="#18191d" stroke-width="0.3">Nbea</text>
<text transform="translate(1144.60,888.20) scale(1.150,1.000)" font-size="15" font-weight="normal" text-anchor="start" fill="#18191d" letter-spacing="0.7">+/-</text>
</g>
<g id="labels">
<text transform="translate(36.30,38.20) scale(1.030,1.000)" font-size="36" font-weight="bold" text-anchor="start" fill="#18191d">A</text>
<text transform="translate(33.70,554.50)" font-size="36" font-weight="bold" text-anchor="start" fill="#18191d">B</text>
<text transform="translate(113.10,72.70) scale(1.010,1.000)" font-size="20.4" font-weight="bold" text-anchor="start" fill="#18191d">Nbea</text>
<text transform="translate(165.80,64.40)" font-size="14.2" font-weight="bold" text-anchor="start" fill="#18191d" stroke="#18191d" stroke-width="0.35">+/+</text>
<text transform="translate(191.10,72.70) scale(1.010,1.000)" font-size="20.4" font-weight="bold" text-anchor="start" fill="#18191d">Nbea</text>
<text transform="translate(242.60,64.40)" font-size="14.2" font-weight="bold" text-anchor="start" fill="#18191d" stroke="#18191d" stroke-width="0.35">+/-</text>
<text transform="translate(116.00,564.70)" font-size="20.4" font-weight="bold" text-anchor="start" fill="#18191d">Nbea</text>
<text transform="translate(167.70,556.40)" font-size="14.2" font-weight="bold" text-anchor="start" fill="#18191d" stroke="#18191d" stroke-width="0.35">+/+</text>
<text transform="translate(193.30,564.70)" font-size="20.4" font-weight="bold" text-anchor="start" fill="#18191d">Nbea</text>
<text transform="translate(243.70,556.40)" font-size="14.2" font-weight="bold" text-anchor="start" fill="#18191d" stroke="#18191d" stroke-width="0.35">+/-</text>
<text transform="translate(318.20,564.70)" font-size="20.4" font-weight="bold" text-anchor="start" fill="#18191d">Nbea</text>
<text transform="translate(369.90,556.40)" font-size="14.2" font-weight="bold" text-anchor="start" fill="#18191d" stroke="#18191d" stroke-width="0.35">+/+</text>
<text transform="translate(395.60,564.70)" font-size="20.4" font-weight="bold" text-anchor="start" fill="#18191d">Nbea</text>
<text transform="translate(446.00,556.40)" font-size="14.2" font-weight="bold" text-anchor="start" fill="#18191d" stroke="#18191d" stroke-width="0.35">+/-</text>
<text transform="translate(86.20,117.20) scale(1.020,1.000)" font-size="22" font-weight="bold" text-anchor="end" fill="#18191d">260</text>
<line x1="91.30" y1="109.30" x2="108.80" y2="109.30" stroke="#18191d" stroke-width="4.3" stroke-linecap="butt"/>
<text transform="translate(86.20,164.90) scale(1.020,1.000)" font-size="22" font-weight="bold" text-anchor="end" fill="#18191d">160</text>
<line x1="91.30" y1="157.00" x2="108.80" y2="157.00" stroke="#18191d" stroke-width="4.3" stroke-linecap="butt"/>
<text transform="translate(86.20,206.60) scale(1.020,1.000)" font-size="22" font-weight="bold" text-anchor="end" fill="#18191d">110</text>
<line x1="91.30" y1="198.70" x2="108.80" y2="198.70" stroke="#18191d" stroke-width="4.3" stroke-linecap="butt"/>
<text transform="translate(86.20,244.20) scale(1.020,1.000)" font-size="22" font-weight="bold" text-anchor="end" fill="#18191d">80</text>
<line x1="91.30" y1="236.30" x2="108.80" y2="236.30" stroke="#18191d" stroke-width="4.3" stroke-linecap="butt"/>
<text transform="translate(86.20,311.70) scale(1.020,1.000)" font-size="22" font-weight="bold" text-anchor="end" fill="#18191d">60</text>
<line x1="91.30" y1="303.80" x2="108.80" y2="303.80" stroke="#18191d" stroke-width="4.3" stroke-linecap="butt"/>
<text transform="translate(86.20,364.90) scale(1.020,1.000)" font-size="22" font-weight="bold" text-anchor="end" fill="#18191d">50</text>
<line x1="91.30" y1="357.00" x2="108.80" y2="357.00" stroke="#18191d" stroke-width="4.3" stroke-linecap="butt"/>
<text transform="translate(86.20,401.70) scale(1.020,1.000)" font-size="22" font-weight="bold" text-anchor="end" fill="#18191d">40</text>
<line x1="91.30" y1="393.80" x2="108.80" y2="393.80" stroke="#18191d" stroke-width="4.3" stroke-linecap="butt"/>
<text transform="translate(273.90,94.50) scale(1.020,1.000)" font-size="21.6" font-weight="bold" text-anchor="middle" fill="#18191d">1</text>
<text transform="translate(273.90,118.90) scale(1.020,1.000)" font-size="21.6" font-weight="bold" text-anchor="middle" fill="#18191d">2</text>
<text transform="translate(273.90,145.90) scale(1.020,1.000)" font-size="21.6" font-weight="bold" text-anchor="middle" fill="#18191d">3</text>
<text transform="translate(273.90,167.80) scale(1.020,1.000)" font-size="21.6" font-weight="bold" text-anchor="middle" fill="#18191d">4</text>
<text transform="translate(273.90,192.80) scale(1.020,1.000)" font-size="21.6" font-weight="bold" text-anchor="middle" fill="#18191d">5</text>
<text transform="translate(273.90,227.90) scale(1.020,1.000)" font-size="21.6" font-weight="bold" text-anchor="middle" fill="#18191d">6</text>
<text transform="translate(273.90,254.40) scale(1.020,1.000)" font-size="21.6" font-weight="bold" text-anchor="middle" fill="#18191d">7</text>
<text transform="translate(273.90,293.80) scale(1.020,1.000)" font-size="21.6" font-weight="bold" text-anchor="middle" fill="#18191d">8</text>
<line x1="245.00" y1="111.30" x2="258.80" y2="97.00" stroke="#18191d" stroke-width="3.6" stroke-linecap="round"/>
<line x1="245.00" y1="125.80" x2="258.80" y2="113.80" stroke="#18191d" stroke-width="3.6" stroke-linecap="round"/>
<path d="M243.6 132.6 L260.4 136.6 L260.4 140.8 L243.6 135.2 Z" fill="#18191d"/>
<path d="M243.6 153.8 L260.4 156.8 L260.4 161.0 L243.6 156.4 Z" fill="#18191d"/>
<line x1="243.60" y1="183.50" x2="260.40" y2="183.50" stroke="#18191d" stroke-width="4.0" stroke-linecap="butt"/>
<line x1="243.60" y1="221.20" x2="260.40" y2="221.20" stroke="#18191d" stroke-width="4.0" stroke-linecap="butt"/>
<line x1="243.60" y1="243.10" x2="260.40" y2="243.10" stroke="#18191d" stroke-width="4.0" stroke-linecap="butt"/>
<line x1="243.60" y1="284.30" x2="260.40" y2="284.30" stroke="#18191d" stroke-width="4.0" stroke-linecap="butt"/>
<text transform="translate(258.20,474.60) scale(0.935,1.000)" font-size="23.2" font-weight="bold" text-anchor="start" fill="#18191d">Actin</text>
<text transform="translate(81.30,611.60) scale(1.020,1.000)" font-size="21.6" font-weight="bold" text-anchor="end" fill="#18191d">460</text>
<line x1="86.90" y1="606.00" x2="106.70" y2="606.00" stroke="#18191d" stroke-width="4.2" stroke-linecap="butt"/>
<text transform="translate(81.30,652.10) scale(1.020,1.000)" font-size="21.6" font-weight="bold" text-anchor="end" fill="#18191d">268</text>
<line x1="86.90" y1="647.20" x2="106.70" y2="647.20" stroke="#18191d" stroke-width="4.2" stroke-linecap="butt"/>
<text transform="translate(81.30,681.50) scale(1.020,1.000)" font-size="21.6" font-weight="bold" text-anchor="end" fill="#18191d">238</text>
<line x1="86.90" y1="667.50" x2="106.70" y2="667.50" stroke="#18191d" stroke-width="4.2" stroke-linecap="butt"/>
<text transform="translate(81.30,752.80) scale(1.020,1.000)" font-size="21.6" font-weight="bold" text-anchor="end" fill="#18191d">171</text>
<line x1="86.90" y1="746.50" x2="106.70" y2="746.50" stroke="#18191d" stroke-width="4.2" stroke-linecap="butt"/>
<text transform="translate(81.30,805.50) scale(1.020,1.000)" font-size="21.6" font-weight="bold" text-anchor="end" fill="#18191d">117</text>
<line x1="86.90" y1="799.00" x2="106.70" y2="799.00" stroke="#18191d" stroke-width="4.2" stroke-linecap="butt"/>
<text transform="translate(81.30,918.00) scale(1.020,1.000)" font-size="21.6" font-weight="bold" text-anchor="end" fill="#18191d">71</text>
<line x1="86.90" y1="909.20" x2="106.70" y2="909.20" stroke="#18191d" stroke-width="4.2" stroke-linecap="butt"/>
<text transform="translate(81.30,991.80) scale(1.020,1.000)" font-size="21.6" font-weight="bold" text-anchor="end" fill="#18191d">55</text>
<line x1="86.90" y1="982.50" x2="106.70" y2="982.50" stroke="#18191d" stroke-width="4.2" stroke-linecap="butt"/>
<text transform="translate(81.30,1063.70) scale(1.020,1.000)" font-size="21.6" font-weight="bold" text-anchor="end" fill="#18191d">41</text>
<line x1="86.90" y1="1054.70" x2="106.70" y2="1054.70" stroke="#18191d" stroke-width="4.2" stroke-linecap="butt"/>
<text transform="translate(81.30,1143.60) scale(1.020,1.000)" font-size="21.6" font-weight="bold" text-anchor="end" fill="#18191d">31</text>
<line x1="86.90" y1="1131.50" x2="106.70" y2="1131.50" stroke="#18191d" stroke-width="4.2" stroke-linecap="butt"/>
<line x1="241.80" y1="603.50" x2="259.50" y2="603.50" stroke="#18191d" stroke-width="4.0" stroke-linecap="butt"/>
<text transform="translate(281.40,607.10) scale(1.020,1.000)" font-size="21.6" font-weight="bold" text-anchor="middle" fill="#18191d">1</text>
<line x1="241.80" y1="658.40" x2="259.50" y2="658.40" stroke="#18191d" stroke-width="4.0" stroke-linecap="butt"/>
<text transform="translate(281.40,663.60) scale(1.020,1.000)" font-size="21.6" font-weight="bold" text-anchor="middle" fill="#18191d">2</text>
<line x1="241.80" y1="686.80" x2="259.50" y2="686.80" stroke="#18191d" stroke-width="4.0" stroke-linecap="butt"/>
<text transform="translate(281.40,692.00) scale(1.020,1.000)" font-size="21.6" font-weight="bold" text-anchor="middle" fill="#18191d">3</text>
<line x1="241.80" y1="733.00" x2="259.50" y2="733.00" stroke="#18191d" stroke-width="4.0" stroke-linecap="butt"/>
<text transform="translate(281.40,738.10) scale(1.020,1.000)" font-size="21.6" font-weight="bold" text-anchor="middle" fill="#18191d">4</text>
<line x1="241.80" y1="775.10" x2="259.50" y2="775.10" stroke="#18191d" stroke-width="4.0" stroke-linecap="butt"/>
<text transform="translate(281.40,780.40) scale(1.020,1.000)" font-size="21.6" font-weight="bold" text-anchor="middle" fill="#18191d">5</text>
<line x1="241.80" y1="810.40" x2="259.50" y2="810.40" stroke="#18191d" stroke-width="4.0" stroke-linecap="butt"/>
<text transform="translate(281.40,818.50) scale(1.020,1.000)" font-size="21.6" font-weight="bold" text-anchor="middle" fill="#18191d">6</text>
<line x1="241.80" y1="867.60" x2="259.50" y2="867.60" stroke="#18191d" stroke-width="4.0" stroke-linecap="butt"/>
<text transform="translate(281.40,873.50) scale(1.020,1.000)" font-size="21.6" font-weight="bold" text-anchor="middle" fill="#18191d">7</text>
<line x1="241.80" y1="933.80" x2="259.50" y2="933.80" stroke="#18191d" stroke-width="4.0" stroke-linecap="butt"/>
<text transform="translate(281.40,939.10) scale(1.020,1.000)" font-size="21.6" font-weight="bold" text-anchor="middle" fill="#18191d">8</text>
<line x1="241.80" y1="1000.00" x2="259.50" y2="1000.00" stroke="#18191d" stroke-width="4.0" stroke-linecap="butt"/>
<text transform="translate(281.40,1005.80) scale(1.020,1.000)" font-size="21.6" font-weight="bold" text-anchor="middle" fill="#18191d">9</text>
<line x1="241.80" y1="1043.70" x2="259.50" y2="1043.70" stroke="#18191d" stroke-width="4.0" stroke-linecap="butt"/>
<text transform="translate(265.20,1047.40)" font-size="21.6" font-weight="bold" text-anchor="start" fill="#18191d">10</text>
<line x1="241.80" y1="1065.60" x2="259.50" y2="1065.60" stroke="#18191d" stroke-width="4.0" stroke-linecap="butt"/>
<text transform="translate(265.20,1074.30)" font-size="21.6" font-weight="bold" text-anchor="start" fill="#18191d">11</text>
<line x1="241.80" y1="1091.60" x2="259.50" y2="1091.60" stroke="#18191d" stroke-width="4.0" stroke-linecap="butt"/>
<text transform="translate(265.20,1098.10)" font-size="21.6" font-weight="bold" text-anchor="start" fill="#18191d">12</text>
<line x1="241.80" y1="1111.70" x2="259.50" y2="1111.70" stroke="#18191d" stroke-width="4.0" stroke-linecap="butt"/>
<text transform="translate(265.20,1123.80)" font-size="21.6" font-weight="bold" text-anchor="start" fill="#18191d">13</text>
<text transform="translate(265.20,1147.60)" font-size="21.6" font-weight="bold" text-anchor="start" fill="#18191d">14</text>
<path d="M242.3 1130.4 L259.0 1133.6 L259.0 1138.0 L242.3 1133.0 Z" fill="#18191d"/>
<line x1="295.00" y1="811.70" x2="314.80" y2="811.70" stroke="#18191d" stroke-width="3.8" stroke-linecap="butt"/>
<line x1="295.00" y1="935.30" x2="314.80" y2="935.30" stroke="#18191d" stroke-width="3.8" stroke-linecap="butt"/>
<line x1="295.00" y1="999.60" x2="314.80" y2="999.60" stroke="#18191d" stroke-width="3.8" stroke-linecap="butt"/>
<text transform="translate(259.80,1205.30) scale(0.950,1.000)" font-size="23.0" font-weight="bold" text-anchor="start" fill="#18191d">Actin</text>
</g>
</svg>
</body></html>
